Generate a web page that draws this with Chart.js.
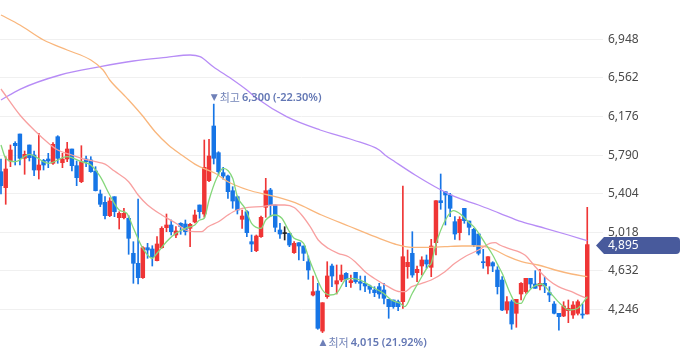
<!DOCTYPE html>
<html>
<head>
<meta charset="utf-8">
<script src="https://cdn.jsdelivr.net/npm/chart.js@4.4.1/dist/chart.umd.min.js"></script>
<style>
  html, body { margin: 0; padding: 0; background: #fff; }
  #wrap { width: 680px; height: 358px; }
</style>
</head>
<body>
<div id="wrap"><canvas id="stockChart" width="680" height="358"></canvas></div>
<script>
// 일봉 데이터 (시가/고가/저가/종가)
const opens = [5624,5464,5731,5908,6001,5758,5891,5791,5641,5738,5751,5708,5974,5714,5751,5851,5684,5524,5751,5741,
  5631,5401,5318,5184,5374,5164,5164,5158,4808,4708,4564,4864,4851,4734,4864,5064,5091,4991,5108,5101,
  5058,5121,5291,5201,5534,6081,5814,5614,5581,5434,5374,5148,5224,4924,4834,4974,5268,5441,5291,5041,
  5005,5008,4814,4914,4881,4724,4391,4431,4030,4374,4681,4501,4541,4608,4514,4618,4524,4508,4481,4441,
  4474,4441,4348,4341,4324,4324,4674,4808,4614,4681,4741,4668,4914,5334,5424,5391,5124,5014,5258,5131,
  5048,5001,4724,4681,4714,4641,4541,4241,4324,4208,4401,4424,4558,4501,4481,4508,4414,4301,4208,4181,
  4234,4191,4208,4201,4201];
const highs = [5751,5774,5891,5924,6001,5831,5891,5831,6008,5748,5808,5914,5984,5808,5918,5851,5731,5884,5781,5774,
  5674,5441,5374,5364,5374,5224,5258,5184,4924,5351,4874,4908,4884,4974,5074,5201,5141,5074,5114,5141,
  5108,5241,5291,5941,5948,6300,5824,5668,5591,5474,5381,5241,5234,4991,4991,5181,5558,5458,5291,5108,
  5074,5008,4924,4914,4881,4781,4581,4508,4314,4724,4701,4691,4691,4614,4591,4618,4581,4581,4491,4474,
  4508,4508,4348,4341,4341,5481,4841,5024,4681,4774,4791,4948,5334,5601,5424,5408,5174,5174,5258,5131,
  5058,5001,4848,4774,4724,4674,4574,4374,4341,4348,4514,4558,4558,4634,4648,4574,4474,4324,4208,4324,
  4341,4324,4341,4301,5268];
const lows = [5401,5298,5674,5691,5691,5598,5731,5584,5551,5641,5664,5698,5708,5664,5724,5631,5484,5514,5674,5618,
  5431,5274,5151,5174,5174,5051,5151,4798,4508,4501,4558,4758,4681,4731,4858,5024,4991,4964,4998,4991,
  4874,5111,5158,5168,5524,5701,5591,5548,5358,5258,5201,5058,4974,4824,4824,4968,5168,5174,5024,4958,
  4941,4874,4808,4741,4734,4548,4381,4048,4015,4358,4474,4401,4524,4474,4468,4508,4441,4424,4408,4374,
  4358,4301,4158,4258,4234,4258,4558,4568,4524,4591,4658,4574,4791,5248,5091,5174,4948,4941,5108,4991,
  4874,4791,4658,4601,4624,4401,4234,4208,4048,4068,4341,4408,4458,4458,4441,4414,4324,4201,4040,4174,
  4114,4158,4191,4158,4201];
const closes = [5484,5651,5841,5884,5758,5798,5764,5641,5691,5691,5731,5898,5758,5751,5851,5684,5564,5724,5724,5624,
  5434,5298,5184,5331,5224,5208,5208,4958,4708,4564,4864,4841,4774,4901,5058,5091,5024,5031,5074,5024,
  5098,5191,5224,5668,5781,5758,5624,5581,5424,5331,5241,5181,5014,4901,4981,5168,5434,5291,5068,5001,
  5005,4891,4908,4881,4808,4641,4424,4058,4314,4581,4581,4534,4591,4548,4534,4524,4508,4481,4448,4414,
  4401,4358,4274,4274,4274,4774,4718,4591,4648,4741,4701,4881,5334,5314,5391,5258,5001,5148,5134,5068,
  4891,4808,4714,4774,4681,4474,4241,4324,4101,4348,4508,4558,4501,4458,4508,4481,4391,4208,4174,4281,
  4258,4291,4324,4191,4895];

// 이동평균선 (그림에서 읽은 지점: 봉 번호 / 값)
const ma5Idx = [0,1,3,6,10,14,17,19,21,23,25,26.6,28,30,32,33,35,37,39,41,42,43,44,45.6,47,49,50,51.6,53,55,56,58,59.4,60.8,62,64,65,66.4,68,69.6,71,72.8,74,76,78.4,80.9,82.6,84.4,85.4,87,88.6,90.4,91,92,94,95.7,97.4,98.8,100.3,102.4,104,105,106,107.7,109,110,111,112.6,114.4,116,118.2,120.3,122,123,124];
const ma5 = [5891,5758,5724,5798,5708,5774,5724,5691,5574,5391,5241,5208,5061,4858,4758,4808,4924,5008,5058,5091,5141,5158,5341,5558,5658,5558,5374,5258,5108,5058,5141,5191,5158,5041,4958,4908,4774,4608,4441,4391,4408,4541,4558,4541,4474,4408,4341,4308,4274,4408,4541,4681,4708,4900,5141,5234,5191,5124,5058,4908,4791,4700,4608,4408,4308,4308,4391,4474,4501,4424,4308,4241,4258,4308,4374];
const ma20Idx = [0,4,7,10,12,15,17,20,22,24,27,29,31,34,37,39,41,42.4,43.8,46,48,49.9,52.3,55,57.6,60,62,63.6,65.4,67.1,69.2,71.3,73.5,74.9,77,79.5,81.9,84.4,85.4,86.9,89,91,93.9,96,98.1,101,103.4,104.5,105.5,107.3,110.8,113,115.8,117.9,120.7,123,124];
const ma20 = [6451,6191,6041,5911,5841,5791,5758,5724,5700,5630,5524,5391,5291,5191,5108,5041,5024,5024,5074,5124,5191,5241,5268,5274,5291,5291,5266,5191,5074,4941,4858,4808,4774,4724,4624,4541,4474,4424,4424,4474,4508,4541,4624,4708,4774,4841,4908,4914,4891,4858,4791,4674,4541,4474,4424,4374,4358];
const ma60Idx = [0,4,9,14,19,21.6,23,26,27,29.8,32.6,35.4,38.2,41,42,45.3,48,52.3,56.5,59.4,62.2,67.8,73.5,79.1,83.3,86.9,90.4,93.9,97.5,101,103.1,104.5,107.3,110.1,113.6,117.2,120.7,124];
const ma60 = [7191,7091,6941,6841,6741,6641,6541,6391,6341,6191,6024,5891,5791,5700,5674,5608,5524,5441,5391,5358,5314,5191,5081,4974,4901,4868,4868,4874,4881,4881,4868,4841,4774,4724,4691,4641,4601,4574];
const ma120Idx = [0,4,12.5,21,28,35,40,42.1,44.9,49.1,52,54.1,60.4,67.5,74.5,80,81.2,83.3,87.6,91.8,96,101,105.5,110.1,115.1,120,124];
const ma120 = [6341,6448,6591,6674,6731,6768,6791,6774,6674,6541,6441,6358,6174,6041,5941,5841,5791,5724,5591,5474,5374,5291,5208,5124,5058,4991,4934];

// 가격 눈금
const tickVals = [4246,4632,5018,5404,5790,6176,6562,6948];

const highIdx = 45, lowIdx = 68;
const highLabel = ['최고', '6,300 (-22.30%)'];
const lowLabel = ['최저', '4,015 (21.92%)'];

const UP = '#ef3535';
const DOWN = '#1675e6';
const FLAT = '#222222';

const candleColor = (i) => closes[i] > opens[i] ? UP : (closes[i] < opens[i] ? DOWN : FLAT);

const wickData = highs.map((h, i) => ({ x: i, y: [lows[i], h] }));
const bodyData = opens.map((o, i) => ({ x: i, y: [o, closes[i]] }));
const toPts = (idx, vals) => idx.map((x, i) => ({ x: x, y: vals[i] }));

function maLine(label, idx, vals, color) {
  return {
    type: 'line',
    label: label,
    data: toPts(idx, vals),
    borderColor: color,
    borderWidth: 1.3,
    pointRadius: 0,
    cubicInterpolationMode: 'monotone',
    order: 0
  };
}

// ✅ 최고/최저 표시 + 현재가 태그
const markerPlugin = {
  id: 'markers',
  afterDatasetsDraw(chart) {
    const { ctx } = chart;
    const xs = chart.scales.x, ys = chart.scales.y;
    ctx.save();
    ctx.textBaseline = 'middle';
    ctx.textAlign = 'left';

    const drawMark = (x, y, arrow, parts) => {
      ctx.fillStyle = '#6f80b8';
      ctx.font = '9px "DejaVu Sans"';
      ctx.fillText(arrow, x - 3, y);
      ctx.font = '11px "Noto Sans CJK KR"';
      ctx.fillStyle = '#7384b8';
      ctx.fillText(parts[0], x + 6, y);
      const w = ctx.measureText(parts[0]).width;
      ctx.font = '600 11px "Noto Sans"';
      ctx.fillStyle = '#6377b4';
      ctx.fillText(parts[1], x + 8 + w, y);
    };

    drawMark(xs.getPixelForValue(highIdx), ys.getPixelForValue(highs[highIdx]) - 6, '▼', highLabel);
    drawMark(xs.getPixelForValue(lowIdx), ys.getPixelForValue(lows[lowIdx]) + 10, '▲', lowLabel);

    // 현재가
    const last = closes[closes.length - 1];
    const ty = Math.round(ys.getPixelForValue(last)) + 0.5;
    const tx = chart.chartArea.right - 7;
    ctx.fillStyle = '#485a9c';
    ctx.beginPath();
    ctx.moveTo(tx, ty);
    ctx.lineTo(tx + 8, ty - 8.5);
    ctx.lineTo(676, ty - 8.5);
    ctx.quadraticCurveTo(680, ty - 8.5, 680, ty - 4.5);
    ctx.lineTo(680, ty + 4.5);
    ctx.quadraticCurveTo(680, ty + 8.5, 676, ty + 8.5);
    ctx.lineTo(tx + 8, ty + 8.5);
    ctx.closePath();
    ctx.fill();
    ctx.fillStyle = '#ffffff';
    ctx.font = '12px "Noto Sans"';
    ctx.fillText(last.toLocaleString('en-US'), chart.chartArea.right + 5, ty + 0.5);
    ctx.restore();
  }
};

const ctx = document.getElementById('stockChart').getContext('2d');
const chart = new Chart(ctx, {
  data: {
    datasets: [
      maLine('5일', ma5Idx, ma5, '#85d77b'),
      maLine('20일', ma20Idx, ma20, '#f8a0a0'),
      maLine('60일', ma60Idx, ma60, '#f9b67c'),
      maLine('120일', ma120Idx, ma120, '#b78cf6'),
      {
        type: 'bar',
        label: 'body',
        data: bodyData,
        backgroundColor: (c) => candleColor(c.dataIndex),
        barThickness: 3.8,
        minBarLength: 1,
        grouped: false,
        order: 1
      },
      {
        type: 'bar',
        label: 'wick',
        data: wickData,
        backgroundColor: (c) => candleColor(c.dataIndex),
        barThickness: 1,
        grouped: false,
        order: 2
      }
    ]
  },
  options: {
    responsive: false,
    animation: false,
    layout: { padding: 0 },
    plugins: {
      legend: { display: false },
      tooltip: { enabled: false }
    },
    scales: {
      x: {
        type: 'linear',
        display: false,
        offset: false,
        min: -0.21,
        max: 127.33
      },
      y: {
        position: 'right',
        min: 3761,
        max: 7341,
        afterBuildTicks: (scale) => {
          scale.ticks = tickVals.map(v => ({ value: v }));
        },
        afterFit: (scale) => {
          scale.width = 77;
          scale.paddingTop = 0;
          scale.paddingBottom = 0;
        },
        border: { display: false },
        grid: { color: '#f0f0f0', drawTicks: false },
        ticks: {
          padding: 5,
          color: '#4a4a4a',
          font: { family: '"Noto Sans", sans-serif', size: 12 },
          callback: (v) => v.toLocaleString('en-US')
        }
      }
    }
  },
  plugins: [markerPlugin]
});
</script>
</body>
</html>
